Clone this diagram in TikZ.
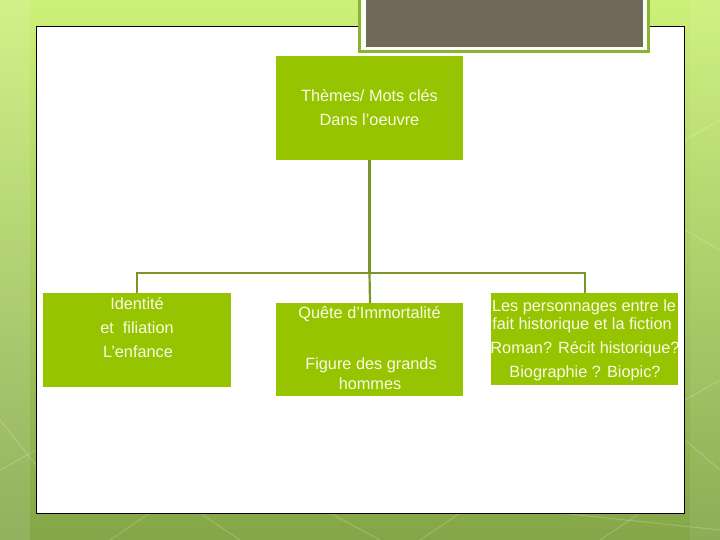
\documentclass[tikz,border=0pt]{standalone}
\usepackage{fontspec}
\setmainfont{Liberation Sans}
\definecolor{bgtop}{RGB}{204,240,120}
\definecolor{bgbot}{RGB}{132,166,72}
\definecolor{boxgreen}{RGB}{150,196,0}
\definecolor{linegreen}{RGB}{122,150,40}
\definecolor{taupe}{RGB}{112,104,88}
\definecolor{frame}{RGB}{140,178,50}
\definecolor{txt}{RGB}{248,252,228}
\tikzset{
  box/.style={fill=boxgreen, draw=none},
  lbl/.style={text=txt, font=\fontsize{16.3}{19}\selectfont, inner sep=0pt, anchor=center},
  conn/.style={draw=linegreen, line width=2.2pt},
  deco/.style={draw=white, opacity=0.2, line width=1pt}
}
\begin{document}
\begin{tikzpicture}[x=1pt,y=-1pt]
\useasboundingbox (0,0) rectangle (720,540);
% background
\shade[top color=bgtop, bottom color=bgbot] (0,0) rectangle (720,540);
\fill[white, opacity=0.12] (0,0) rectangle (30,540);
\fill[white, opacity=0.08] (690,0) rectangle (720,540);
% decorative faint lines
\draw[deco] (0,420) -- (40,470);
\draw[deco] (0,470) -- (36,450);
\draw[deco] (110,540) -- (150,513);
\draw[deco] (200,513) -- (240,540);
\draw[deco] (330,513) -- (380,540);
\draw[deco] (420,540) -- (460,513);
\draw[deco] (600,540) -- (640,513);
\draw[deco] (685,140) -- (720,120);
\draw[deco] (685,230) -- (720,250);
\draw[deco] (685,400) -- (720,380);
\draw[deco] (685,440) -- (720,470);
\draw[deco] (560,513) -- (720,530);
% white panel
\draw[fill=white, draw=black, line width=0.9pt] (36,26) rectangle (684,513);
% title box
\fill[frame] (358,0) rectangle (650,53);
\fill[white!96!green] (361,0) rectangle (647,50);
\fill[taupe] (366,0) rectangle (643,47);
% nodes
\fill[box] (276,56) rectangle (463,160);
\node[lbl] (rootA) at (369.5,96) {Thèmes/ Mots clés};
\node[lbl] (rootB) at (369.5,120) {Dans l'oeuvre};
\coordinate (root) at (369.5,160);

\fill[box] (43,293) rectangle (231,387);
\node[lbl] (l1) at (137,304) {Identité};
\node[lbl] (l2) at (137,328) {et \ filiation};
\node[lbl] (l3) at (138,352) {L'enfance};
\coordinate (left) at (137,293);

\fill[box] (276,303) rectangle (463,396);
\node[lbl] (m1) at (369.5,314) {Quête d'Immortalité};
\node[lbl] (m2) at (371,365) {Figure des grands};
\node[lbl] (m3) at (370,384) {hommes};
\coordinate (mid) at (370,303);

\fill[box] (491,293) rectangle (678,385);
\node[lbl] (r1) at (584,307) {Les personnages entre le};
\node[lbl] (r2) at (582,325) {fait historique et la fiction};
\node[lbl] (r3) at (585,349) {Roman? Récit historique?};
\node[lbl] (r4) at (585,373) {Biographie ? Biopic?};
\coordinate (right) at (585,293);

% connectors
\coordinate (bus) at (369.5,273);
\draw[conn] (root) -- (bus);
\draw[conn] (left) -- (left |- bus) -- (right |- bus) -- (right);
\draw[conn] (bus) -- (mid);
\end{tikzpicture}
\end{document}
